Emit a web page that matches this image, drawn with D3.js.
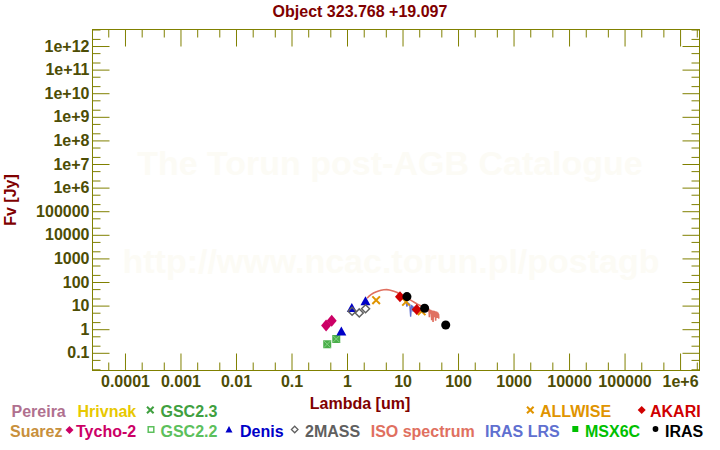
<!DOCTYPE html>
<html><head><meta charset="utf-8">
<script src="https://cdn.jsdelivr.net/npm/d3@7"></script>
<style>
body{margin:0;background:#fff}
svg{display:block}
text{font-family:"Liberation Sans",Arial,Helvetica,sans-serif;font-weight:bold}
</style>
</head><body>
<svg id="c" width="720" height="450"></svg>
<script>
// ---------- data ----------
const title = "Object 323.768 +19.097";
const xTitle = "Lambda [um]";
const yTitle = "Fv [Jy]";
const watermark1 = "The Torun post-AGB Catalogue";
const watermark2 = "http://www.ncac.torun.pl/postagb";

const xTickVals = [1e-4, 1e-3, 1e-2, 1e-1, 1, 10, 100, 1e3, 1e4, 1e5, 1e6];
const xTickLabels = ["0.0001","0.001","0.01","0.1","1","10","100","1000","10000","100000","1e+6"];
const yTickVals = [0.1, 1, 10, 100, 1e3, 1e4, 1e5, 1e6, 1e7, 1e8, 1e9, 1e10, 1e11, 1e12];
const yTickLabels = ["0.1","1","10","100","1000","10000","100000","1e+6","1e+7","1e+8","1e+9","1e+10","1e+11","1e+12"];

const isoLam = [2.3,2.5,2.7,3.0,3.3,3.7,4.1,4.6,5.2,5.8,6.5,7.2,8.0,8.8,9.6,10.5,11.5,12.5,13.5,15,16.5,18,20,22,24,26,27.5,28.5,29,29.5,30,30.5,31,31.5,32,32.5,33,33.5,34,34.5,35,35.5,36,36.5,37,37.5,38,38.5,39,39.5,40,40.5,41,41.5,42,42.5,43,43.5,44,44.5,45];
const isoF   = [20.5,25,29,34,38,42,45,47,47.5,46,43,40,36,31,28,25,22,20,18,15.5,13.5,12,10.5,9.5,8.8,8.2,7.6,6.8,7.4,5.5,7.2,3.2,6.8,4.5,6.6,5.2,6.4,2.4,6.0,4.2,6.2,2.0,5.8,4.8,6.0,3.2,5.6,4.0,5.8,2.3,5.4,3.8,5.6,4.6,3.0,5.2,4.0,5.0,3.4,4.4,2.8];

const lrsLam = [10.5,11,11.5,12,12.5,13,13.5,14,14.5,15,15.5,16,16.5,17,18];
const lrsF   = [20,17,15,9,13,12,11,3.4,10,9.5,5.5,8.5,8,7.5,7];

const gscLam = [0.44, 0.64];
const gscF   = [0.23, 0.385];
const tychoLam = [0.42, 0.53];
const tychoF   = [1.45, 2.3];
const denisLam = [0.79, 1.22, 2.15];
const denisF   = [0.8, 8.0, 15.5];
const tmassLam = [1.235, 1.662, 2.159];
const tmassF   = [5.8, 4.9, 7.4];
const wiseLam = [3.35, 11.56, 22.09];
const wiseF   = [17, 14.5, 5.7];
const akariLam = [9, 18];
const akariF   = [24, 6.8];
const irasLam = [12, 25, 60];
const irasF   = [24, 7.7, 1.5];

const legendRow1 = ["Pereira","Hrivnak","GSC2.3","ALLWISE","AKARI"];
const legendRow2 = ["Suarez","Tycho-2","GSC2.2","Denis","2MASS","ISO spectrum","IRAS LRS","MSX6C","IRAS"];

// ---------- layout ----------
const svg = d3.select("#c");
const X0 = 92.5, X1 = 699.5, Y0 = 29.5, Y1 = 370.5;
const x = d3.scaleLog().domain([Math.pow(10,-4.585), Math.pow(10,6.35)]).range([X0, X1]);
const y = d3.scaleLog().domain([Math.pow(10,-1.75), Math.pow(10,12.70)]).range([Y1, Y0]);

const OLIVE = "#808000", LBL = "#4d4d05", DRED = "#800000";

// watermark
svg.append("text").attr("x",390).attr("y",175).attr("text-anchor","middle")
  .attr("font-size",34).attr("fill","#fcfbf5").text(watermark1);
svg.append("text").attr("x",391).attr("y",273).attr("text-anchor","middle")
  .attr("font-size",34).attr("fill","#fcfbf5").text(watermark2);

// minor tick values (2 and 5 of each decade)
function minors(scale){
  const [a,b] = scale.domain();
  const out = [];
  for (let e = Math.floor(Math.log10(a)); e <= Math.ceil(Math.log10(b)); e++)
    for (const k of [2,5]) { const v = k*Math.pow(10,e); if (v>=a && v<=b) out.push(v); }
  return out;
}

function styleAxis(g){
  g.select(".domain").remove();
  g.selectAll("line").attr("stroke", OLIVE).attr("stroke-width",1);
  g.selectAll("text").attr("fill", LBL).attr("font-size",16)
   .attr("font-family",'"Liberation Sans",Arial,sans-serif').attr("font-weight","bold");
  g.attr("font-size",null).attr("font-family",null);
}

// bottom
svg.append("g").attr("transform",`translate(0,${Y1})`)
  .call(d3.axisBottom(x).tickValues(xTickVals).tickFormat((d,i)=>xTickLabels[i]).tickSize(-17).tickPadding(5)).call(styleAxis);
svg.append("g").attr("transform",`translate(0,${Y1})`)
  .call(d3.axisBottom(x).tickValues(minors(x)).tickFormat("").tickSize(-8)).call(styleAxis);
// top
svg.append("g").attr("transform",`translate(0,${Y0})`)
  .call(d3.axisTop(x).tickValues(xTickVals).tickFormat("").tickSize(-17)).call(styleAxis);
svg.append("g").attr("transform",`translate(0,${Y0})`)
  .call(d3.axisTop(x).tickValues(minors(x)).tickFormat("").tickSize(-8)).call(styleAxis);
// left
svg.append("g").attr("transform",`translate(${X0},0)`)
  .call(d3.axisLeft(y).tickValues(yTickVals).tickFormat((d,i)=>yTickLabels[i]).tickSize(-17).tickPadding(3)).call(styleAxis);
svg.append("g").attr("transform",`translate(${X0},0)`)
  .call(d3.axisLeft(y).tickValues(minors(y)).tickFormat("").tickSize(-8)).call(styleAxis);
// right
svg.append("g").attr("transform",`translate(${X1},0)`)
  .call(d3.axisRight(y).tickValues(yTickVals).tickFormat("").tickSize(-17)).call(styleAxis);
svg.append("g").attr("transform",`translate(${X1},0)`)
  .call(d3.axisRight(y).tickValues(minors(y)).tickFormat("").tickSize(-8)).call(styleAxis);

// frame
svg.append("rect").attr("x",X0).attr("y",Y0).attr("width",X1-X0).attr("height",Y1-Y0)
  .attr("fill","none").attr("stroke",OLIVE).attr("stroke-width",1);

// titles
svg.append("text").attr("x",360).attr("y",17).attr("text-anchor","middle")
  .attr("font-size",16).attr("fill",DRED).text(title);
svg.append("text").attr("x",360).attr("y",409).attr("text-anchor","middle")
  .attr("font-size",16).attr("fill",DRED).text(xTitle);
svg.append("text").attr("transform","translate(15.5,200) rotate(-90)").attr("text-anchor","middle")
  .attr("font-size",16).attr("fill",DRED).text(yTitle);

// ---------- marker paths ----------
const P = {
  diamond:(w,h)=>`M0,${-h}L${w},0L0,${h}L${-w},0Z`,
  tri:(w,h)=>`M0,${-h*0.55}L${w},${h*0.45}L${-w},${h*0.45}Z`,
  square:(s)=>`M${-s},${-s}H${s}V${s}H${-s}Z`,
  times:(s)=>`M${-s},${-s}L${s},${s}M${s},${-s}L${-s},${s}`
};
const zip = (a,b)=>a.map((v,i)=>[v,b[i]]);
const plot = svg.append("g");
function markers(lam, f, path, fill, stroke, sw){
  plot.selectAll(null).data(zip(lam,f)).enter().append("path")
    .attr("transform",d=>`translate(${x(d[0])},${y(d[1])})`)
    .attr("d",path).attr("fill",fill).attr("stroke",stroke||"none").attr("stroke-width",sw||0);
}

// spectra
const line = d3.line().x(d=>x(d[0])).y(d=>y(d[1]));
plot.append("path").datum(zip(isoLam,isoF)).attr("d",line)
  .attr("fill","none").attr("stroke","#e07060").attr("stroke-width",1.6);
plot.append("path").datum(zip(lrsLam,lrsF)).attr("d",line)
  .attr("fill","none").attr("stroke","#6070d0").attr("stroke-width",1.3);

// photometry
markers(gscLam, gscF, P.square(4), "#4aae4a");
markers(gscLam, gscF, P.times(3.5), "none", "#80d080", 1);
markers(tychoLam, tychoF, P.diamond(5,6), "#cc0066");
markers(denisLam, denisF, P.tri(5,9), "#0000c8");
markers(tmassLam, tmassF, P.diamond(4,4), "none", "#606060", 1.5);
markers(wiseLam, wiseF, P.times(3.8), "none", "#e09400", 2);
markers(akariLam, akariF, P.diamond(5,5.5), "#d00000");
markers(irasLam, irasF, d3.symbol().type(d3.symbolCircle).size(64)(), "#000");

// ---------- legend ----------
const leg = svg.append("g").attr("font-size",16);
function ltext(t, xx, yy, col){ leg.append("text").attr("x",xx).attr("y",yy).attr("fill",col).text(t); }
function lsym(path, xx, yy, fill, stroke, sw){
  leg.append("path").attr("transform",`translate(${xx},${yy})`).attr("d",path)
    .attr("fill",fill).attr("stroke",stroke||"none").attr("stroke-width",sw||0);
}
const r1 = 416.5, r2 = 436.5;
ltext(legendRow1[0], 11.5, r1, "#b0708f");
ltext(legendRow1[1], 77.5, r1, "#e8c800");
lsym(P.times(3.3), 150.3, 410, "none", "#40a040", 2);
ltext(legendRow1[2], 160.5, r1, "#40a040");
lsym(P.times(3.3), 530.3, 410, "none", "#e09400", 2);
ltext(legendRow1[3], 540, r1, "#e09400");
lsym(P.diamond(4,4), 641.7, 410, "#d00000");
ltext(legendRow1[4], 650, r1, "#d00000");

ltext(legendRow2[0], 10, r2, "#c8903c");
lsym(P.diamond(4,4), 69.5, 430, "#cc0066");
ltext(legendRow2[1], 76, r2, "#cc0066");
lsym(P.square(2.8), 151, 429.5, "none", "#5cc05c", 1.5);
ltext(legendRow2[2], 160.5, r2, "#5cc05c");
lsym(P.tri(3.5,6.5), 229, 429.5, "#0000c8");
ltext(legendRow2[3], 240, r2, "#0000c8");
lsym(P.diamond(3.3,3.3), 294.7, 429.5, "none", "#606060", 1.3);
ltext(legendRow2[4], 305, r2, "#606060");
ltext(legendRow2[5], 370.7, r2, "#e07060");
ltext(legendRow2[6], 485, r2, "#6070d0");
lsym(P.square(3), 575.3, 429, "#00c000");
ltext(legendRow2[7], 585, r2, "#00c000");
lsym(d3.symbol().type(d3.symbolCircle).size(26)(), 655.5, 429, "#000");
ltext(legendRow2[8], 665, r2, "#000");
</script>
</body></html>
